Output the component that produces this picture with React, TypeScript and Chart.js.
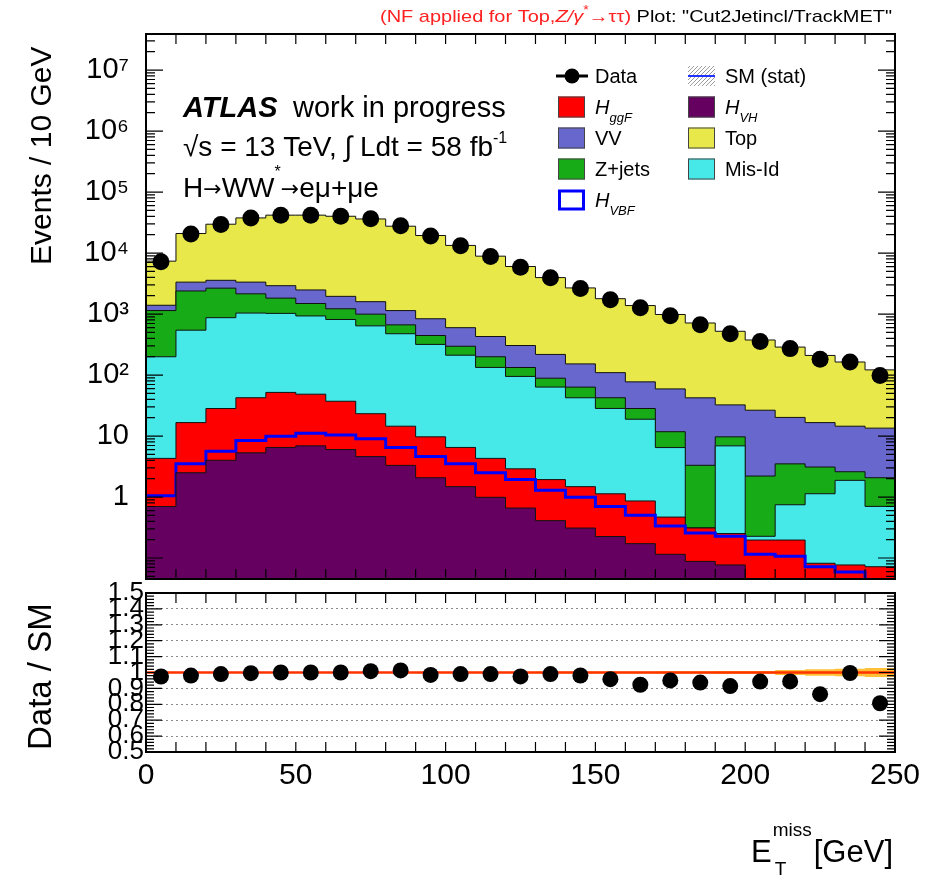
import React, { useEffect, useRef } from 'react';
import { Chart, registerables } from 'chart.js';

Chart.register(...registerables);

const FONT = '"Liberation Sans", Arimo, Helvetica, Arial, sans-serif';

// ---------------- data ----------------
const binEdges = [0, 10, 20, 30, 40, 50, 60, 70, 80, 90, 100, 110, 120, 130, 140, 150, 160, 170, 180, 190, 200, 210, 220, 230, 240, 250];
const binCenters = [5, 15, 25, 35, 45, 55, 65, 75, 85, 95, 105, 115, 125, 135, 145, 155, 165, 175, 185, 195, 205, 215, 225, 235, 245];

const dataEvents = [7180, 20500, 29400, 37500, 41800, 41800, 40100, 36500, 27900, 19100, 13200, 8800, 5870, 3920, 2630, 1710, 1270, 934, 668, 477, 354, 271, 181, 163, 98];

const hVH = [0.70, 2.5, 4.0, 5.3, 6.5, 6.9, 6.0, 4.6, 3.3, 2.07, 1.48, 0.99, 0.66, 0.41, 0.31, 0.225, 0.172, 0.115, 0.088, 0.077, 0.02, 0.02, 0.015, 0.015, 0.01];
const hVBF = [0.35, 1.0, 1.65, 3.15, 3.4, 4.2, 4.35, 4.44, 3.2, 2.53, 2.02, 1.51, 1.27, 0.88, 0.68, 0.475, 0.33, 0.22, 0.17, 0.15, 0.095, 0.087, 0.057, 0.044, 0.032];
const hggF = [3.25, 13.1, 22.6, 34.0, 42.0, 37.4, 26.8, 14.2, 8.0, 5.1, 3.0, 1.8, 0.97, 0.64, 0.49, 0.43, 0.36, 0.134, 0.053, 0.025, 0.082, 0.09, 0.01, 0.018, 0.03];
const misId = [195, 527, 843, 995, 973, 882, 777, 617, 461, 308, 205, 129, 92, 61.5, 40.9, 27.2, 18.0, 6.0, 0, 6.65, 0.03, 0.55, 1.05, 1.8, 0.63];
const zJets = [941, 1844, 1784, 1106, 799, 558, 405, 356, 189, 127, 85, 66, 38, 25.3, 21, 14.1, 9.4, 5.3, 3.0, 2.8, 1.98, 2.75, 1.97, 0.72, 1.37];
const diboson = [253, 948, 918, 1193, 1093, 994, 731, 599, 475, 392, 301, 229, 172, 129, 89, 67, 49, 47.5, 39, 22.7, 24.3, 16.7, 13.5, 11.9, 11.4];
const topQuark = [5971, 17564, 26127, 34314, 38883, 39317, 38150, 34605, 26400, 18553, 12732, 8462, 5715, 3742, 2528, 1676, 1299, 924, 671, 489, 349, 267, 193, 149, 108];
const smStatRel = [0.004, 0.003, 0.003, 0.003, 0.003, 0.003, 0.003, 0.003, 0.003, 0.004, 0.004, 0.005, 0.005, 0.006, 0.006, 0.007, 0.007, 0.008, 0.008, 0.009, 0.01, 0.016, 0.02, 0.024, 0.028];

const yMin = 0.0453;
const yMax = 3.9e7;
const yDecades = [1, 10, 100, 1000, 10000, 100000, 1000000, 10000000];
const yDecadeLabels = ['1', '10', '10²', '10³', '10⁴', '10⁵', '10⁶', '10⁷'];
const xTickValues = [0, 50, 100, 150, 200, 250];
const ratioTicks = [0.5, 0.6, 0.7, 0.8, 0.9, 1.0, 1.1, 1.2, 1.3, 1.4, 1.5];
const ratioTickLabels = ['0.5', '0.6', '0.7', '0.8', '0.9', '1', '1.1', '1.2', '1.3', '1.4', '1.5'];

const COLORS = {
  top: '#e8e84a',
  vv: '#6767cd',
  zjets: '#18ab18',
  misid: '#47e8e8',
  ggf: '#ff0000',
  vbf: '#0000ff',
  vh: '#650060',
};

// ---------------- helpers ----------------
function stepPoints(vals: number[]) {
  const pts = vals.map((v, i) => ({ x: binEdges[i], y: v }));
  pts.push({ x: binEdges[vals.length], y: vals[vals.length - 1] });
  return pts;
}

type Part = { t: string; size: number; dy?: number; style?: string; color?: string; gap?: number; family?: string };

function drawParts(ctx: CanvasRenderingContext2D, parts: Part[], x: number, y: number, targetWidth?: number) {
  ctx.save();
  ctx.textAlign = 'left';
  ctx.textBaseline = 'alphabetic';
  let w = 0;
  const widths: number[] = [];
  for (const p of parts) {
    ctx.font = `${p.style || ''} ${p.size}px ${p.family || FONT}`;
    const pw = ctx.measureText(p.t).width + (p.gap || 0);
    widths.push(pw);
    w += pw;
  }
  const sx = targetWidth ? targetWidth / w : 1;
  ctx.translate(x, y);
  ctx.scale(sx, 1);
  let cx = 0;
  parts.forEach((p, i) => {
    ctx.font = `${p.style || ''} ${p.size}px ${p.family || FONT}`;
    ctx.fillStyle = p.color || '#000';
    ctx.fillText(p.t, cx, p.dy || 0);
    cx += widths[i];
  });
  ctx.restore();
}

type TickSpec = { v: number; len: number };

function makeFrameTicks(xTicks: TickSpec[], yTicks: TickSpec[]) {
  return {
    id: 'frameTicks',
    afterDatasetsDraw(chart: any) {
      const { ctx, chartArea: a, scales } = chart;
      const xs = scales.x;
      const ys = scales.y;
      ctx.save();
      ctx.strokeStyle = '#000';
      ctx.lineWidth = 1.2;
      ctx.beginPath();
      for (const t of xTicks) {
        const px = xs.getPixelForValue(t.v);
        ctx.moveTo(px, a.bottom);
        ctx.lineTo(px, a.bottom - t.len);
        ctx.moveTo(px, a.top);
        ctx.lineTo(px, a.top + t.len);
      }
      for (const t of yTicks) {
        const py = ys.getPixelForValue(t.v);
        if (py < a.top - 0.5 || py > a.bottom + 0.5) continue;
        ctx.moveTo(a.left, py);
        ctx.lineTo(a.left + t.len, py);
        ctx.moveTo(a.right, py);
        ctx.lineTo(a.right - t.len, py);
      }
      ctx.stroke();
      ctx.lineWidth = 2;
      ctx.strokeRect(a.left, a.top, a.right - a.left, a.bottom - a.top);
      ctx.restore();
    },
  };
}

const ARROW_FONT = '"DejaVu Sans", sans-serif';

const upperText = {
  id: 'upperText',
  afterDraw(chart: any) {
    const ctx: CanvasRenderingContext2D = chart.ctx;
    ctx.save();
    // header
    const red = '#ff2020';
    drawParts(ctx, [
      { t: '(NF applied for Top,', size: 17, color: red },
      { t: 'Z/γ', size: 17, style: 'italic', color: red },
      { t: '*', size: 12, dy: -8, color: red },
      { t: '→ττ)', size: 17, color: red },
      { t: ' Plot: "Cut2Jetincl/TrackMET"', size: 17, color: '#000' },
    ], 380, 22, 512);

    // y title
    ctx.save();
    ctx.translate(51, 265);
    ctx.rotate(-Math.PI / 2);
    ctx.font = `30px ${FONT}`;
    ctx.fillStyle = '#000';
    ctx.textAlign = 'left';
    ctx.textBaseline = 'alphabetic';
    ctx.fillText('Events / 10 GeV', 0, 0);
    ctx.restore();

    // ATLAS label
    drawParts(ctx, [{ t: 'ATLAS', size: 29, style: 'italic bold' }], 183, 117);
    drawParts(ctx, [{ t: 'work in progress', size: 29 }], 293, 117);
    drawParts(ctx, [
      { t: '√s = 13 TeV, ∫ Ldt = 58 fb', size: 28 },
      { t: '-1', size: 16, dy: -13 },
    ], 183, 156);
    drawParts(ctx, [
      { t: 'H', size: 28 },
      { t: '→', size: 22, family: ARROW_FONT, dy: -1 },
      { t: 'WW', size: 28 },
      { t: '*', size: 16, dy: -20 },
      { t: '→', size: 22, family: ARROW_FONT, dy: -1 },
      { t: 'eμ+μe', size: 28 },
    ], 183, 197);

    // legend
    const rows = [76, 107, 138, 169, 200];
    const c1Box = 558, c1Text = 595, c2Box = 688, c2Text = 725;
    const box = (x: number, yc: number, fill: string, stroke = '#444', lw = 1) => {
      ctx.fillStyle = fill;
      ctx.fillRect(x, yc - 10.5, 27, 21);
      ctx.strokeStyle = stroke;
      ctx.lineWidth = lw;
      ctx.strokeRect(x + lw / 2, yc - 10.5 + lw / 2, 27 - lw, 21 - lw);
    };
    const label = (x: number, yc: number, parts: Part[]) => drawParts(ctx, parts, x, yc + 7);

    // Data
    ctx.strokeStyle = '#000';
    ctx.lineWidth = 3;
    ctx.beginPath();
    ctx.moveTo(556, rows[0]);
    ctx.lineTo(588, rows[0]);
    ctx.stroke();
    ctx.fillStyle = '#000';
    ctx.beginPath();
    ctx.arc(572, rows[0], 7.5, 0, Math.PI * 2);
    ctx.fill();
    label(c1Text, rows[0], [{ t: 'Data', size: 20 }]);

    // SM (stat)
    ctx.save();
    ctx.beginPath();
    ctx.rect(c2Box, rows[0] - 10, 27, 20);
    ctx.clip();
    ctx.strokeStyle = '#9a9a9a';
    ctx.lineWidth = 1;
    ctx.beginPath();
    for (let k = -30; k < 40; k += 4) {
      ctx.moveTo(c2Box + k, rows[0] + 10);
      ctx.lineTo(c2Box + k + 20, rows[0] - 10);
    }
    ctx.stroke();
    ctx.restore();
    ctx.strokeStyle = '#2233ff';
    ctx.lineWidth = 2;
    ctx.beginPath();
    ctx.moveTo(c2Box, rows[0]);
    ctx.lineTo(c2Box + 27, rows[0]);
    ctx.stroke();
    label(c2Text, rows[0], [{ t: 'SM (stat)', size: 20 }]);

    box(c1Box, rows[1], COLORS.ggf);
    label(c1Text, rows[1], [{ t: 'H', size: 20, style: 'italic' }, { t: 'ggF', size: 13, style: 'italic', dy: 8 }]);
    box(c2Box, rows[1], COLORS.vh);
    label(c2Text, rows[1], [{ t: 'H', size: 20, style: 'italic' }, { t: 'VH', size: 13, style: 'italic', dy: 8 }]);
    box(c1Box, rows[2], COLORS.vv);
    label(c1Text, rows[2], [{ t: 'VV', size: 20 }]);
    box(c2Box, rows[2], COLORS.top);
    label(c2Text, rows[2], [{ t: 'Top', size: 20 }]);
    box(c1Box, rows[3], COLORS.zjets);
    label(c1Text, rows[3], [{ t: 'Z+jets', size: 20 }]);
    box(c2Box, rows[3], COLORS.misid);
    label(c2Text, rows[3], [{ t: 'Mis-Id', size: 20 }]);
    box(c1Box, rows[4], '#ffffff', COLORS.vbf, 3);
    label(c1Text, rows[4], [{ t: 'H', size: 20, style: 'italic' }, { t: 'VBF', size: 13, style: 'italic', dy: 8 }]);

    ctx.restore();
  },
};

const LOWER_TOP = 560;

const lowerText = {
  id: 'lowerText',
  afterDraw(chart: any) {
    const ctx: CanvasRenderingContext2D = chart.ctx;
    ctx.save();
    // y title
    ctx.save();
    ctx.translate(51, 750 - LOWER_TOP);
    ctx.rotate(-Math.PI / 2);
    ctx.font = `33px ${FONT}`;
    ctx.fillStyle = '#000';
    ctx.textAlign = 'left';
    ctx.textBaseline = 'alphabetic';
    ctx.fillText('Data / SM', 0, 0);
    ctx.restore();

    // x title
    const base = 862 - LOWER_TOP;
    ctx.fillStyle = '#000';
    ctx.textBaseline = 'alphabetic';
    ctx.textAlign = 'left';
    ctx.font = `31px ${FONT}`;
    ctx.fillText('E', 751, base);
    const eW = ctx.measureText('E').width;
    ctx.font = `19px ${FONT}`;
    ctx.fillText('miss', 751 + eW + 1, base - 26);
    ctx.fillText('T', 751 + eW + 3, base + 13);
    ctx.font = `31px ${FONT}`;
    ctx.textAlign = 'right';
    ctx.fillText('[GeV]', 893, base);
    ctx.restore();
  },
};

export default function App() {
  const upperRef = useRef<HTMLCanvasElement>(null);
  const lowerRef = useRef<HTMLCanvasElement>(null);

  useEffect(() => {
    const layers = [hVH, hVBF, hggF, misId, zJets, diboson, topQuark];
    const cum: number[][] = [];
    layers.forEach((arr, k) => {
      cum.push(arr.map((v, i) => v + (k > 0 ? cum[k - 1][i] : 0)));
    });
    const total = cum[cum.length - 1];
    const ratio = dataEvents.map((d, i) => d / total[i]);

    // tick mark specs (decoration)
    const xTicks: TickSpec[] = binEdges.map((v) => ({ v, len: 10 }));
    const yLogTicks: TickSpec[] = [];
    for (let e = -2; e <= 7; e++) {
      for (let m = 1; m <= 9; m++) {
        const v = m * Math.pow(10, e);
        if (v >= yMin && v <= yMax) yLogTicks.push({ v, len: m === 1 ? 17 : 9 });
      }
    }
    const yRatioTicks: TickSpec[] = [];
    for (let k = 0; k <= 50; k++) {
      yRatioTicks.push({ v: 0.5 + k * 0.02, len: k % 5 === 0 ? 16 : 8 });
    }

    const fillLayer = (vals: number[], color: string) => ({
      data: stepPoints(vals),
      stepped: 'before' as const,
      borderColor: '#111',
      borderWidth: 1,
      backgroundColor: color,
      fill: 'start' as const,
      pointRadius: 0,
    });

    const noPad = (s: any, w: number) => {
      s.width = w;
      s.paddingTop = 0;
      s.paddingBottom = 0;
    };

    const upper = new Chart(upperRef.current!, {
      type: 'line',
      data: {
        datasets: [
          {
            data: binCenters.map((x, i) => ({ x, y: dataEvents[i] })),
            showLine: false,
            pointRadius: 8.5,
            pointBackgroundColor: '#000',
            pointBorderWidth: 0,
            borderColor: '#000',
          },
          fillLayer(cum[0], COLORS.vh),
          {
            data: stepPoints(cum[1]),
            stepped: 'before' as const,
            borderColor: COLORS.vbf,
            borderWidth: 3,
            fill: false,
            pointRadius: 0,
          },
          fillLayer(cum[2], COLORS.ggf),
          fillLayer(cum[3], COLORS.misid),
          fillLayer(cum[4], COLORS.zjets),
          fillLayer(cum[5], COLORS.vv),
          fillLayer(cum[6], COLORS.top),
        ] as any,
      },
      options: {
        responsive: false,
        animation: false,
        devicePixelRatio: 1,
        events: [],
        layout: { padding: { left: 0, right: 40, top: 34, bottom: 11 } },
        plugins: { legend: { display: false }, tooltip: { enabled: false } },
        scales: {
          x: { type: 'linear', min: 0, max: 250, display: false },
          y: {
            type: 'logarithmic',
            min: yMin,
            max: yMax,
            afterFit: (s: any) => noPad(s, 146),
            afterBuildTicks: (s: any) => { s.ticks = yDecades.map((v) => ({ value: v })); },
            ticks: {
              autoSkip: false,
              padding: 9,
              color: '#000',
              font: { family: FONT, size: 29 },
              callback: (v: any) => {
                const idx = yDecades.findIndex((d) => Math.abs(Math.log10(d) - Math.log10(Number(v))) < 1e-6);
                return idx >= 0 ? yDecadeLabels[idx] : '';
              },
            },
            grid: { display: false },
            border: { display: false },
          },
        },
      } as any,
      plugins: [makeFrameTicks(xTicks, yLogTicks), upperText],
    });

    const lower = new Chart(lowerRef.current!, {
      type: 'line',
      data: {
        datasets: [
          {
            data: binCenters.map((x, i) => ({ x, y: ratio[i] })),
            showLine: false,
            pointRadius: 8,
            pointBackgroundColor: '#000',
            pointBorderWidth: 0,
            borderColor: '#000',
          },
          {
            data: [{ x: 0, y: 1 }, { x: 250, y: 1 }],
            borderColor: '#ff3300',
            borderWidth: 2.5,
            pointRadius: 0,
            fill: false,
          },
          {
            data: stepPoints(smStatRel.map((e) => 1 + e)),
            stepped: 'before' as const,
            borderWidth: 0,
            borderColor: 'rgba(0,0,0,0)',
            backgroundColor: 'rgba(255,180,20,0.85)',
            fill: 3,
            pointRadius: 0,
          },
          {
            data: stepPoints(smStatRel.map((e) => 1 - e)),
            stepped: 'before' as const,
            borderWidth: 0,
            borderColor: 'rgba(0,0,0,0)',
            fill: false,
            pointRadius: 0,
          },
        ] as any,
      },
      options: {
        responsive: false,
        animation: false,
        devicePixelRatio: 1,
        events: [],
        layout: { padding: { left: 0, right: 40, top: 33, bottom: 0 } },
        plugins: { legend: { display: false }, tooltip: { enabled: false } },
        scales: {
          x: {
            type: 'linear',
            min: 0,
            max: 250,
            afterFit: (s: any) => { s.height = 127; },
            afterBuildTicks: (s: any) => { s.ticks = xTickValues.map((v) => ({ value: v })); },
            ticks: {
              autoSkip: false,
              maxRotation: 0,
              padding: -2,
              color: '#000',
              font: { family: FONT, size: 30 },
              callback: (v: any) => String(v),
            },
            grid: { display: false },
            border: { display: false },
          },
          y: {
            type: 'linear',
            min: 0.5,
            max: 1.5,
            afterFit: (s: any) => noPad(s, 146),
            afterBuildTicks: (s: any) => { s.ticks = ratioTicks.map((v) => ({ value: v })); },
            ticks: {
              autoSkip: false,
              padding: 2,
              color: '#000',
              font: { family: FONT, size: 26 },
              callback: (_v: any, i: number) => ratioTickLabels[i],
            },
            grid: { color: '#8a8a8a', lineWidth: 1, drawTicks: false },
            border: { display: false, dash: [2, 3] },
          },
        },
      } as any,
      plugins: [makeFrameTicks(xTicks, yRatioTicks), lowerText],
    });

    return () => {
      upper.destroy();
      lower.destroy();
    };
  }, []);

  return (
    <div style={{ position: 'absolute', left: 0, top: 0, width: 935, height: 879, background: '#fff' }}>
      <canvas ref={upperRef} width={935} height={590} style={{ position: 'absolute', left: 0, top: 0 }} />
      <canvas ref={lowerRef} width={935} height={879 - LOWER_TOP} style={{ position: 'absolute', left: 0, top: LOWER_TOP }} />
    </div>
  );
}
